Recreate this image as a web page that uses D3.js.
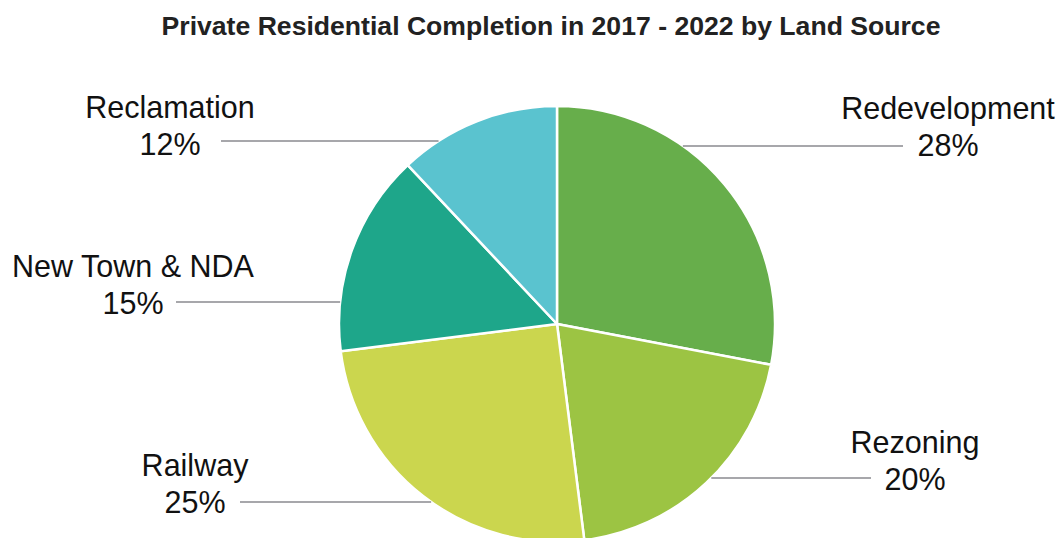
<!DOCTYPE html>
<html>
<head>
<meta charset="utf-8">
<script src="https://cdn.jsdelivr.net/npm/d3@7"></script>
<style>
  html, body { margin: 0; padding: 0; background: #fff; }
  svg { display: block; }
</style>
</head>
<body>
<svg id="chart" width="1061" height="538"></svg>
<script>
const categories = ["Redevelopment", "Rezoning", "Railway", "New Town & NDA", "Reclamation"];
const values = [28, 20, 25, 15, 12];
const colors = ["#67ae4b", "#9cc443", "#cbd64e", "#1ea68a", "#5ac3cf"];
const title = "Private Residential Completion in 2017 - 2022 by Land Source";

// layout (label placement), separate from data
const labelLayout = {
  "Redevelopment":  { side: "right", lineY: 146, textX: 948, lineEnd: 903, textDy: -2 },
  "Rezoning":       { side: "right", lineY: 478, textX: 915, lineEnd: 871, textDy: 0 },
  "Railway":        { side: "left",  lineY: 502, textX: 195, lineEnd: 240, textDy: -1 },
  "New Town & NDA": { side: "left",  lineY: 302, textX: 133, lineEnd: 176, textDy: 0 },
  "Reclamation":    { side: "left",  lineY: 141, textX: 170, lineEnd: 221, textDy: 2 }
};

const svg = d3.select("#chart");
const cx = 557, cy = 324, r = 218;
const font = "'Liberation Sans', Arial, Helvetica, sans-serif";

svg.append("text")
  .attr("x", 551).attr("y", 35)
  .attr("text-anchor", "middle")
  .attr("font-family", font)
  .attr("font-weight", "bold")
  .attr("font-size", 26.6)
  .attr("fill", "#222")
  .text(title);

const data = categories.map((c, i) => ({ name: c, value: values[i], color: colors[i] }));
const pie = d3.pie().value(d => d.value).sort(null);
const arcs = pie(data);
const arc = d3.arc().innerRadius(0).outerRadius(r);

const g = svg.append("g").attr("transform", `translate(${cx},${cy})`);
g.selectAll("path").data(arcs).join("path")
  .attr("d", arc)
  .attr("fill", d => d.data.color)
  .attr("stroke", "#fff")
  .attr("stroke-width", 2.5)
  .attr("stroke-linejoin", "round");

const pct = d3.format(".0f");
const total = d3.sum(values);
arcs.forEach(a => {
  const L = labelLayout[a.data.name];
  const dy = L.lineY - cy;
  const dx = Math.sqrt(Math.max(0, r * r - dy * dy));
  const edgeX = L.side === "right" ? cx + dx : cx - dx;
  svg.append("line")
    .attr("x1", edgeX).attr("x2", L.lineEnd)
    .attr("y1", L.lineY).attr("y2", L.lineY)
    .attr("stroke", "#8a8a8f").attr("stroke-width", 1.5);
  svg.append("text")
    .attr("x", L.textX).attr("y", L.lineY - 25 + L.textDy)
    .attr("text-anchor", "middle")
    .attr("font-family", font).attr("font-size", 30.5).attr("fill", "#111")
    .text(a.data.name);
  svg.append("text")
    .attr("x", L.textX).attr("y", L.lineY + 12 + L.textDy)
    .attr("text-anchor", "middle")
    .attr("font-family", font).attr("font-size", 30.5).attr("fill", "#111")
    .text(pct(a.data.value / total * 100) + "%");
});
</script>
</body>
</html>
